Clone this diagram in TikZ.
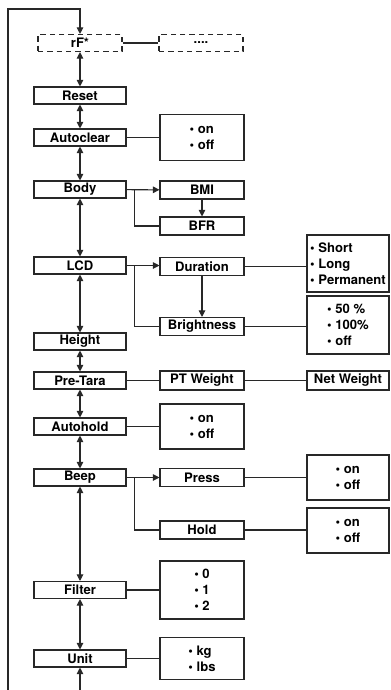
\documentclass[tikz,border=0pt]{standalone}
\usepackage{fontspec}
\setmainfont{TeX Gyre Heros}
\usetikzlibrary{arrows.meta, positioning, calc}
\definecolor{menuLine}{RGB}{40, 40, 40}

\begin{document}
\begin{tikzpicture}[
    x=0.75pt, y=-0.75pt,
    every node/.style={font=\fontsize{9.8}{12}\selectfont\bfseries, inner sep=0pt},
    mainbox/.style={rectangle, draw=menuLine, line width=0.8pt, minimum width=69pt, minimum height=12.75pt},
    subbox/.style={rectangle, draw=menuLine, line width=0.8pt, minimum width=63pt, minimum height=13.5pt},
    farbox/.style={rectangle, draw=menuLine, line width=0.8pt, minimum width=61.5pt, minimum height=13.5pt},
    optbox/.style={rectangle, draw=menuLine, line width=0.8pt, align=left},
    dashbox/.style={mainbox, dash pattern=on 4pt off 3pt},
    link/.style={draw=menuLine, line width=0.8pt},
    arr/.style={link, -{Triangle[length=5pt, width=5pt]}},
    dbl/.style={link, {Triangle[length=5pt, width=5pt]}-{Triangle[length=5pt, width=5pt]}}
  ]
    \useasboundingbox (0,0) rectangle (390,690);

    % main menu column
    \node[dashbox, minimum width=63pt] (rf) at (80,43) {rF*};
    \node[dashbox, minimum width=63pt] (more) at (201,43) {....};
    \node[mainbox] (reset) at (80,95.5) {Reset};
    \node[mainbox] (autoclear) at (80,137.5) {Autoclear};
    \node[mainbox] (body) at (80,189.5) {Body};
    \node[mainbox] (lcd) at (80,265.5) {LCD};
    \node[mainbox] (height) at (80,341.5) {Height};
    \node[mainbox] (pretara) at (80,380.5) {Pre-Tara};
    \node[mainbox] (autohold) at (80,426.5) {Autohold};
    \node[mainbox] (beep) at (80,477.5) {Beep};
    \node[mainbox] (filter) at (80,590) {Filter};
    \node[mainbox] (unit) at (80,658.5) {Unit};

    % sub menus
    \node[optbox, minimum width=63pt, minimum height=34.5pt] (autoclearOpt) at (202,137.5) {• on\\• off};
    \node[subbox] (bmi) at (202,190) {BMI};
    \node[subbox] (bfr) at (202,226) {BFR};
    \node[subbox] (duration) at (202,266.5) {Duration};
    \node[subbox] (brightness) at (202,326.5) {Brightness};
    \node[subbox, minimum height=14.25pt] (ptweight) at (202,380.5) {PT Weight};
    \node[optbox, minimum width=63pt, minimum height=33.75pt] (autoholdOpt) at (202,426.5) {• on\\• off};
    \node[subbox] (press) at (202,477.5) {Press};
    \node[subbox] (hold) at (202,530) {Hold};
    \node[optbox, minimum width=63pt, minimum height=43.5pt] (filterOpt) at (202,590) {• 0\\• 1\\• 2};
    \node[optbox, minimum width=63pt, minimum height=31.5pt] (unitOpt) at (202,658.5) {• kg\\• lbs};

    % third level
    \node[optbox, minimum width=61.5pt, minimum height=42.75pt, inner xsep=2pt] (durationOpt) at (348,263.5) {• Short\\• Long\\• Permanent};
    \node[optbox, minimum width=61.5pt, minimum height=43.5pt] (brightnessOpt) at (348,325) {• 50 \%\\• 100\%\\• off};
    \node[farbox, minimum height=14.25pt] (netweight) at (348,380.5) {Net Weight};
    \node[optbox, minimum width=61.5pt, minimum height=33.75pt] (pressOpt) at (348,477.5) {• on\\• off};
    \node[optbox, minimum width=61.5pt, minimum height=33.75pt] (holdOpt) at (348,530.5) {• on\\• off};

    % loop back to the top
    \coordinate (loopBot) at (8,690);
    \coordinate (loopTop) at (80,9);
    \coordinate (unitIn) at (80,690);
    \draw[arr] (loopBot) |- (loopTop) -- (rf);
    \draw[arr] (unitIn) -- (unit);

    % main column arrows
    \draw[dbl] (rf) -- (reset);
    \draw[dbl] (reset) -- (autoclear);
    \draw[dbl] (autoclear) -- (body);
    \draw[dbl] (body) -- (lcd);
    \draw[dbl] (lcd) -- (height);
    \draw[dbl] (height) -- (pretara);
    \draw[dbl] (pretara) -- (autohold);
    \draw[dbl] (autohold) -- (beep);
    \draw[dbl] (beep) -- (filter);
    \draw[dbl] (filter) -- (unit);

    % branches
    \coordinate (bodyFork) at ($(body.east)+(8,0)$);
    \coordinate (lcdFork) at ($(lcd.east)+(8,0)$);
    \coordinate (beepFork) at ($(beep.east)+(8,0)$);
    \draw[link] (rf) -- (more);
    \draw[link] (autoclear) -- (autoclearOpt);
    \draw[arr] (body) -- (bmi);
    \draw[link] (bodyFork) |- (bfr);
    \draw[arr] (bmi) -- (bfr);
    \draw[arr] (lcd.east) -- (duration.west |- lcd.east);
    \draw[link] (lcdFork) |- (brightness);
    \draw[arr] (duration) -- (brightness);
    \draw[link] (duration.east) -- (durationOpt.west |- duration.east);
    \draw[link] (brightness.east) -- (brightnessOpt.west |- brightness.east);
    \draw[link] (pretara) -- (ptweight);
    \draw[link] (ptweight) -- (netweight);
    \draw[link] (autohold) -- (autoholdOpt);
    \draw[arr] (beep) -- (press);
    \draw[link] (beepFork) |- (hold);
    \draw[link] (press) -- (pressOpt);
    \draw[link] (hold.east) -- (holdOpt.west |- hold.east);
    \draw[link] (filter) -- (filterOpt);
    \draw[link] (unit) -- (unitOpt);
  \end{tikzpicture}
\end{document}
